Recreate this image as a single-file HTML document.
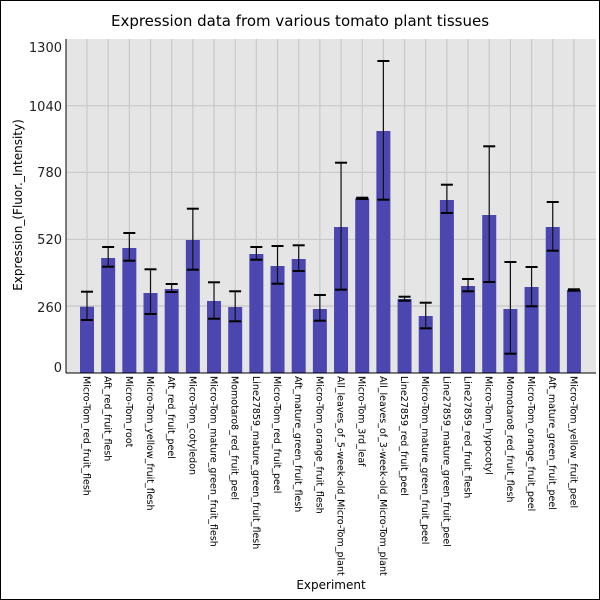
<!DOCTYPE html>
<html><head><meta charset="utf-8"><style>html,body{margin:0;padding:0;background:#fff}svg{display:block}</style></head><body>
<svg width="600" height="600" xmlns="http://www.w3.org/2000/svg" font-family="DejaVu Sans, Liberation Sans, sans-serif">
<rect x="0.5" y="0.5" width="599" height="599" fill="#fff" stroke="#000"/>
<rect x="66" y="39" width="530" height="334" fill="#e5e5e5"/>
<g stroke="#c8c8c8" stroke-width="1.2">
<line x1="66" x2="596" y1="105.7" y2="105.7"/><line x1="66" x2="596" y1="172.3" y2="172.3"/><line x1="66" x2="596" y1="239.3" y2="239.3"/><line x1="66" x2="596" y1="306" y2="306"/>
</g>
<g id="vg" stroke="#c8c8c8" stroke-width="1.2"></g>
<g id="bars"></g>
<line x1="66" y1="39" x2="66" y2="373" stroke="#000"/>
<line x1="66" y1="373" x2="596" y2="373" stroke="#000"/>
<g font-size="13" text-anchor="end" fill="#222">
<text x="62" y="52">1300</text><text x="62" y="111">1040</text><text x="62" y="177">780</text><text x="62" y="244">520</text><text x="62" y="312">260</text><text x="62" y="372">0</text>
</g>
<text x="300" y="26" font-size="15" text-anchor="middle">Expression data from various tomato plant tissues</text>
<text x="331" y="589" font-size="12" text-anchor="middle">Experiment</text>
<text transform="translate(22,205) rotate(-90)" font-size="12" text-anchor="middle">Expression_(Fluor._Intensity)</text>
<g id="lbl" font-size="9.5"></g>
<script>
var d=[[306.7,291.7,320],[258,247,266.7],[248,233,260.7],[293,269.3,314],[289,284,292],[240,208.7,269.7],[301,282.3,318.7],[307,291.3,321.3],[254,247,259.7],[266,246,283.7],[259,245.3,271],[309,295,320.7],[227,162.7,289.7],[198.3,197.7,199],[131,61,199.7],[299,296.7,300.7],[316,302.7,328.3],[200,184.7,213],[286,279,291.3],[215,146.3,282],[309,262,353.7],[287,267,306.3],[227,202,250.7],[290,289.3,290.7]];
var n=["Micro-Tom_red_fruit_flesh","Aft_red_fruit_flesh","Micro-Tom_root","Micro-Tom_yellow_fruit_flesh","Aft_red_fruit_peel","Micro-Tom_cotyledon","Micro-Tom_mature_green_fruit_flesh","Momotaro8_red_fruit_peel","Line27859_mature_green_fruit_flesh","Micro-Tom_red_fruit_peel","Aft_mature_green_fruit_flesh","Micro-Tom_orange_fruit_flesh","All_leaves_of_5-week-old_Micro-Tom_plant","Micro-Tom_3rd_leaf","All_leaves_of_3-week-old_Micro-Tom_plant","Line27859_red_fruit_peel","Micro-Tom_mature_green_fruit_peel","Line27859_mature_green_fruit_peel","Line27859_red_fruit_flesh","Micro-Tom_hypocotyl","Momotaro8_red_fruit_flesh","Micro-Tom_orange_fruit_peel","Aft_mature_green_fruit_peel","Micro-Tom_yellow_fruit_peel"];
var NS="http://www.w3.org/2000/svg",vg=document.getElementById('vg'),b=document.getElementById('bars'),l=document.getElementById('lbl');
function el(p,t,a,tx){var e=document.createElementNS(NS,t);for(var k in a)e.setAttribute(k,a[k]);if(tx)e.textContent=tx;p.appendChild(e);}
for(var i=0;i<24;i++){var c=87+i*21.17;
el(vg,'line',{x1:c,x2:c,y1:39,y2:373});
el(b,'rect',{x:c-7,y:d[i][0],width:14,height:373-d[i][0],fill:'#4b46b0'});
el(b,'line',{x1:c,x2:c,y1:d[i][1],y2:d[i][2],stroke:'#111','stroke-width':1.2});
el(b,'line',{x1:c-6,x2:c+6,y1:d[i][1],y2:d[i][1],stroke:'#000','stroke-width':2});
el(b,'line',{x1:c-6,x2:c+6,y1:d[i][2],y2:d[i][2],stroke:'#000','stroke-width':2});
el(l,'text',{transform:'translate('+(c-3.5)+',376) rotate(90)'},n[i]);}
</script>
</svg>
</body></html>
